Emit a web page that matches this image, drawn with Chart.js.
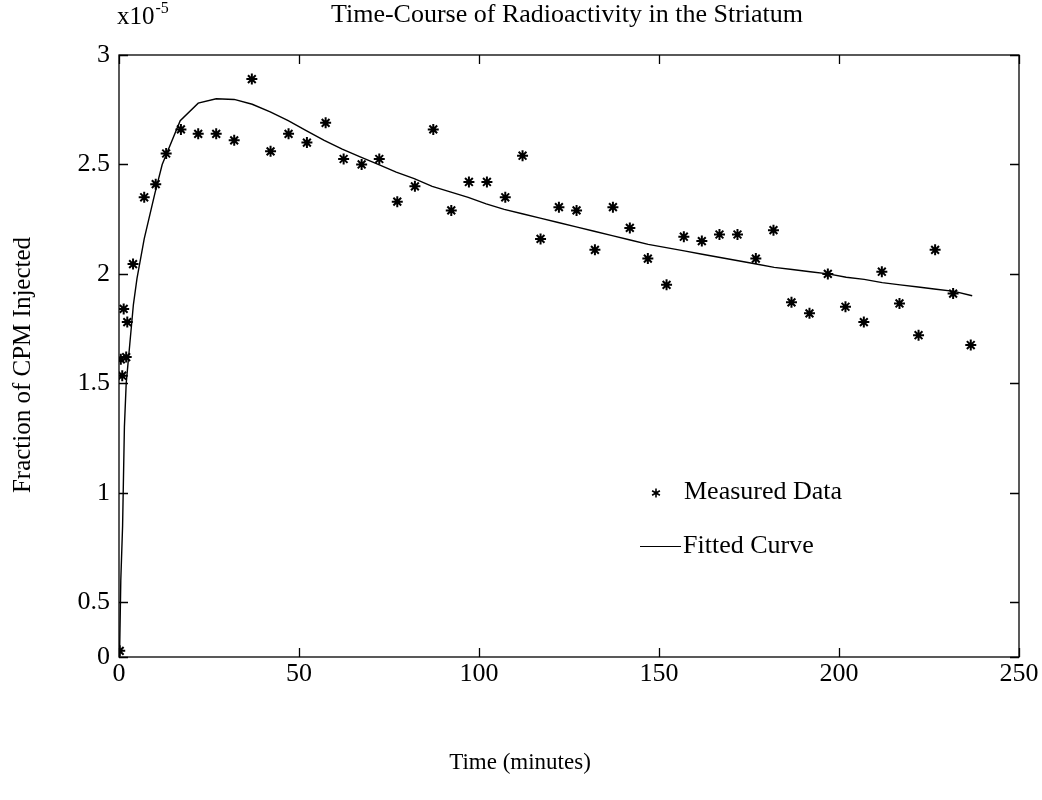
<!DOCTYPE html>
<html><head><meta charset="utf-8">
<script src="https://cdn.jsdelivr.net/npm/chart.js@4.4.1/dist/chart.umd.min.js"></script>
<style>html,body{margin:0;padding:0;background:#fff}#wrap{width:1042px;height:800px}</style>
</head><body><div id="wrap"><canvas id="c" width="1042" height="800"></canvas></div>
<script>
const measuredTimes = [0.2, 0.5, 0.9, 1.3, 2.0, 2.3, 3.9, 7.0, 10.2, 13.1, 17.2, 22.0, 27.0, 32.0, 36.9, 42.1, 47.1, 52.2, 57.4, 62.4, 67.4, 72.3, 77.3, 82.2, 87.3, 92.3, 97.2, 102.2, 107.3, 112.1, 117.1, 122.2, 127.1, 132.2, 137.2, 141.9, 146.9, 152.1, 156.9, 161.9, 166.8, 171.8, 176.9, 181.8, 186.8, 191.8, 196.9, 201.8, 206.9, 211.9, 216.8, 222.1, 226.7, 231.7, 236.6];
const measuredValues = [0.278, 1.61, 1.535, 1.84, 1.62, 1.78, 2.045, 2.35, 2.41, 2.55, 2.66, 2.64, 2.64, 2.61, 2.89, 2.56, 2.64, 2.60, 2.69, 2.525, 2.50, 2.525, 2.33, 2.40, 2.66, 2.29, 2.42, 2.42, 2.35, 2.54, 2.16, 2.305, 2.29, 2.11, 2.305, 2.21, 2.07, 1.95, 2.17, 2.15, 2.18, 2.18, 2.07, 2.20, 1.87, 1.82, 2.00, 1.85, 1.78, 2.01, 1.865, 1.72, 2.11, 1.91, 1.675];
const fittedTimes = [0, 0.5, 1, 1.5, 2, 3, 4, 5, 7, 10, 12, 17, 22, 27, 32, 37, 42, 47, 52, 57, 62, 67, 72, 77, 82, 87, 92, 97, 102, 107, 112, 117, 122, 127, 132, 137, 142, 147, 152, 157, 162, 167, 172, 177, 182, 187, 192, 197, 202, 207, 212, 217, 222, 227, 232, 237];
const fittedValues = [0.1, 0.6, 0.85, 1.3, 1.5, 1.68, 1.86, 1.98, 2.16, 2.37, 2.5, 2.70, 2.78, 2.80, 2.797, 2.775, 2.74, 2.70, 2.655, 2.61, 2.57, 2.535, 2.50, 2.465, 2.435, 2.40, 2.375, 2.35, 2.32, 2.295, 2.275, 2.255, 2.235, 2.215, 2.195, 2.175, 2.155, 2.135, 2.12, 2.105, 2.09, 2.075, 2.06, 2.045, 2.03, 2.02, 2.01, 2.0, 1.985, 1.975, 1.96, 1.95, 1.94, 1.93, 1.92, 1.90];
const xTickValues = [0, 50, 100, 150, 200, 250];
const xTickLabels = ['0', '50', '100', '150', '200', '250'];
const yTickValues = [0.25, 0.5, 1, 1.5, 2, 2.5, 3];
const yTickLabels = ['0', '0.5', '1', '1.5', '2', '2.5', '3'];

const SERIF = "'Liberation Serif', 'Times New Roman', serif";

const framePlugin = {
  id: 'frame',
  afterDraw(chart) {
    const ctx = chart.ctx, a = chart.chartArea;
    const xs = chart.scales.x, ys = chart.scales.y;
    ctx.save();
    ctx.strokeStyle = '#000';
    ctx.lineWidth = 1.3;
    ctx.strokeRect(a.left, a.top, a.right - a.left, a.bottom - a.top);
    const tl = 9;
    ctx.beginPath();
    xTickValues.forEach(v => {
      const p = Math.round(xs.getPixelForValue(v)) + 0.5;
      ctx.moveTo(p, a.bottom); ctx.lineTo(p, a.bottom - tl);
      ctx.moveTo(p, a.top); ctx.lineTo(p, a.top + tl);
    });
    yTickValues.forEach(v => {
      const p = Math.round(ys.getPixelForValue(v)) + 0.5;
      ctx.moveTo(a.left, p); ctx.lineTo(a.left + tl, p);
      ctx.moveTo(a.right, p); ctx.lineTo(a.right - tl, p);
    });
    ctx.stroke();

    ctx.fillStyle = '#000';
    // title
    ctx.font = "26px " + SERIF;
    ctx.textAlign = 'center'; ctx.textBaseline = 'middle';
    ctx.fillText('Time-Course of Radioactivity in the Striatum', 567, 15);
    // exponent
    ctx.textAlign = 'left';
    ctx.font = "25px " + SERIF;
    ctx.fillText('x10', 117, 17);
    const w = ctx.measureText('x10').width;
    ctx.font = "16px " + SERIF;
    ctx.fillText('-5', 117 + w + 1, 9);
    // x title
    ctx.font = "23px " + SERIF;
    ctx.textAlign = 'center';
    ctx.fillText('Time (minutes)', 520, 763);
    // y title
    ctx.save();
    ctx.translate(23, 365);
    ctx.rotate(-Math.PI / 2);
    ctx.font = "25px " + SERIF;
    ctx.fillText('Fraction of CPM Injected', 0, 0);
    ctx.restore();
    // legend
    ctx.lineWidth = 1.6;
    const sx = 656, sy = 493, r = 4.5;
    ctx.beginPath();
    ctx.moveTo(sx, sy - r); ctx.lineTo(sx, sy + r);
    ctx.moveTo(sx - r * 0.87, sy - r * 0.5); ctx.lineTo(sx + r * 0.87, sy + r * 0.5);
    ctx.moveTo(sx - r * 0.87, sy + r * 0.5); ctx.lineTo(sx + r * 0.87, sy - r * 0.5);
    ctx.stroke();
    ctx.lineWidth = 1;
    ctx.beginPath();
    ctx.moveTo(640, 546.5); ctx.lineTo(681, 546.5);
    ctx.stroke();
    ctx.font = "26px " + SERIF;
    ctx.textAlign = 'left';
    ctx.fillText('Measured Data', 684, 492);
    ctx.fillText('Fitted Curve', 683, 546);
    ctx.restore();
  }
};

new Chart(document.getElementById('c'), {
  type: 'scatter',
  data: {
    datasets: [
      {
        label: 'Measured Data',
        data: measuredTimes.map((t, i) => ({ x: t, y: measuredValues[i] })),
        pointStyle: 'star',
        pointRadius: 5.5,
        borderColor: '#000',
        backgroundColor: '#000',
        borderWidth: 2,
        showLine: false
      },
      {
        label: 'Fitted Curve',
        data: fittedTimes.map((t, i) => ({ x: t, y: fittedValues[i] })),
        showLine: true,
        pointRadius: 0,
        borderColor: '#000',
        borderWidth: 1.4,
        tension: 0,
        fill: false
      }
    ]
  },
  options: {
    responsive: false,
    animation: false,
    devicePixelRatio: 1,
    layout: { padding: { top: 55, right: 23, left: 0, bottom: 0 } },
    plugins: { legend: { display: false }, tooltip: { enabled: false }, title: { display: false } },
    scales: {
      x: {
        type: 'linear', min: 0, max: 250,
        afterBuildTicks: s => { s.ticks = xTickValues.map(v => ({ value: v })); },
        afterFit: s => { s.height = 143; },
        ticks: {
          callback: v => xTickLabels[xTickValues.indexOf(v)],
          font: { family: SERIF, size: 26 }, color: '#000', padding: 2, maxRotation: 0, autoSkip: false
        },
        grid: { display: false, drawTicks: false },
        border: { display: false }
      },
      y: {
        type: 'linear', min: 0.25, max: 3,
        afterBuildTicks: s => { s.ticks = yTickValues.map(v => ({ value: v })); },
        afterFit: s => { s.width = 119; },
        ticks: {
          callback: v => yTickLabels[yTickValues.indexOf(v)],
          font: { family: SERIF, size: 26 }, color: '#000', padding: 9, autoSkip: false
        },
        grid: { display: false, drawTicks: false },
        border: { display: false }
      }
    }
  },
  plugins: [framePlugin]
});
</script>
</body></html>
